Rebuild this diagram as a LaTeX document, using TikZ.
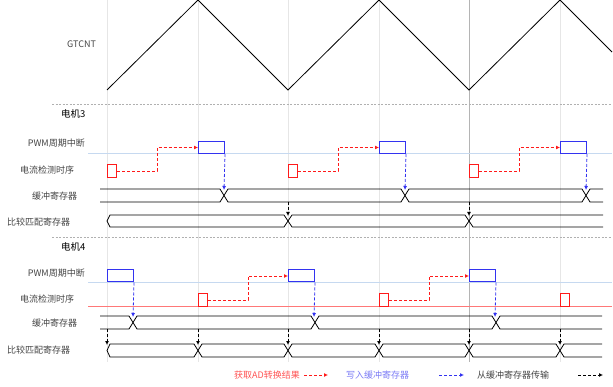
\documentclass[tikz,border=0pt]{standalone}
\usepackage{fontspec}
\setmainfont{Noto Sans CJK SC}
\usetikzlibrary{arrows.meta}
\definecolor{gridgray}{HTML}{E6E6E6}
\definecolor{markgray}{HTML}{B4B4B4}
\definecolor{sepgray}{HTML}{B0B0B0}
\definecolor{labelgray}{HTML}{444444}
\definecolor{adred}{HTML}{FF1A1A}
\definecolor{pwmblue}{HTML}{3333F0}
\definecolor{pwmline}{HTML}{C6D9F0}
\definecolor{adline}{HTML}{FF7878}
\tikzset{
    lbl/.style={font=\fontsize{9}{10}\selectfont, text=labelgray, inner sep=0pt},
    motor/.style={font=\fontsize{9.5}{11}\selectfont, inner sep=0pt},
    adbox/.style={draw=adred, line width=1pt, fill=white, minimum width=9pt, minimum height=13pt, inner sep=0pt, anchor=north west},
    pwmbox/.style={draw=pwmblue, line width=1pt, fill=white, minimum width=26pt, minimum height=12pt, inner sep=0pt, anchor=north west},
    bus/.style={line width=0.8pt},
    adarrow/.style={adred, line width=0.8pt, dash pattern=on 3pt off 2pt, -{Latex[length=4pt,width=4pt]}},
    bufarrow/.style={pwmblue, line width=0.8pt, dash pattern=on 3pt off 2pt, -{Latex[length=4pt,width=4pt]}},
    cmparrow/.style={black, line width=0.8pt, dash pattern=on 3pt off 2pt, -{Latex[length=4pt,width=4pt]}}
}
\begin{document}
\begin{tikzpicture}[x=1pt, y=-1pt]
    \useasboundingbox (0,0) rectangle (613,387);
    % grid
    \foreach \gx in {107,198,288,379,560}
        \draw[gridgray, line width=0.7pt] (\gx,0) -- (\gx,362);
    \draw[markgray, line width=0.8pt] (469,0) -- (469,362);
    % counter
    \node[lbl, anchor=west] (cnt) at (67,44) {GTCNT};
    \draw[line width=0.8pt] (107,90) -- (198,0) -- (288,90) -- (379,0) -- (469,90) -- (560,0) -- (612,52);
    \draw[sepgray, dash pattern=on 2pt off 1.5pt] (52,104) -- (612,104);
    \draw[sepgray, dash pattern=on 2pt off 1.5pt] (52,237) -- (612,237);

    % motor 3
    \node[motor, anchor=west] (m3) at (61,114) {电机3};
    \node[lbl, anchor=east] (pwm3) at (85,143) {PWM周期中断};
    \node[lbl, anchor=west] (ad3) at (20,170) {电流检测时序};
    \node[lbl, anchor=west] (buf3) at (32,196) {缓冲寄存器};
    \node[lbl, anchor=west] (cmp3) at (7,222) {比较匹配寄存器};
    \draw[pwmline, line width=0.8pt] (88,153) -- (612,153);
    \draw[bus] (100,189) -- (220,189) -- (228,202) -- (401,202) -- (409,189) -- (582,189) -- (590,202) -- (603,202);
    \draw[bus] (100,202) -- (220,202) -- (228,189) -- (401,189) -- (409,202) -- (582,202) -- (590,189) -- (603,189);
    \draw[bus] (603,215) -- (473,215) -- (465,227) -- (292,227) -- (284,215) -- (110,215) -- (107,221) -- (110,227)
        -- (284,227) -- (292,215) -- (465,215) -- (473,227) -- (603,227);
    \node[adbox] (r31) at (107,164) {};
    \node[adbox] (r32) at (288,164) {};
    \node[adbox] (r33) at (469,164) {};
    \node[pwmbox] (b31) at (198,141) {};
    \node[pwmbox] (b32) at (379,141) {};
    \node[pwmbox] (b33) at (560,141) {};
    \coordinate (x31) at (224,190);
    \coordinate (x32) at (405,190);
    \coordinate (x33) at (586,190);
    \coordinate (s31) at (288,202);
    \coordinate (s32) at (469,202);
    \coordinate (c31) at (288,216);
    \coordinate (c32) at (469,216);
    \draw[adarrow] (r31.east) -- ++(40,0) |- (b31.west);
    \draw[adarrow] (r32.east) -- ++(40,0) |- (b32.west);
    \draw[adarrow] (r33.east) -- ++(40,0) |- (b33.west);
    \draw[bufarrow] (b31.south east) -- (x31);
    \draw[bufarrow] (b32.south east) -- (x32);
    \draw[bufarrow] (b33.south east) -- (x33);
    \draw[cmparrow] (s31) -- (c31);
    \draw[cmparrow] (s32) -- (c32);

    % motor 4
    \node[motor, anchor=west] (m4) at (61,247) {电机4};
    \node[lbl, anchor=east] (pwm4) at (85,273) {PWM周期中断};
    \node[lbl, anchor=west] (ad4) at (20,299) {电流检测时序};
    \node[lbl, anchor=west] (buf4) at (32,323) {缓冲寄存器};
    \node[lbl, anchor=west] (cmp4) at (7,350) {比较匹配寄存器};
    \draw[pwmline, line width=0.8pt] (88,282) -- (612,282);
    \draw[adline, line width=0.8pt] (88,306) -- (612,306);
    \draw[bus] (100,316) -- (129,316) -- (137,329) -- (311,329) -- (319,316) -- (492,316) -- (500,329) -- (602,329);
    \draw[bus] (100,329) -- (129,329) -- (137,316) -- (311,316) -- (319,329) -- (492,329) -- (500,316) -- (602,316);
    \draw[bus] (602,344) -- (564,344) -- (556,357) -- (473,357) -- (465,344) -- (383,344) -- (375,357) -- (292,357)
        -- (284,344) -- (202,344) -- (194,357) -- (110,357) -- (107,350.5) -- (110,344) -- (194,344) -- (202,357)
        -- (284,357) -- (292,344) -- (375,344) -- (383,357) -- (465,357) -- (473,344) -- (556,344) -- (564,357) -- (602,357);
    \node[pwmbox] (b41) at (107,269.5) {};
    \node[pwmbox] (b42) at (288,269.5) {};
    \node[pwmbox] (b43) at (469,269.5) {};
    \node[adbox] (r41) at (198,293) {};
    \node[adbox] (r42) at (379,293) {};
    \node[adbox] (r43) at (560,293) {};
    \coordinate (x41) at (133,317);
    \coordinate (x42) at (314,317);
    \coordinate (x43) at (495,317);
    \draw[adarrow] (r41.east) -- ++(40,0) |- (b42.west);
    \draw[adarrow] (r42.east) -- ++(40,0) |- (b43.west);
    \draw[bufarrow] (b41.south east) -- (x41);
    \draw[bufarrow] (b42.south east) -- (x42);
    \draw[bufarrow] (b43.south east) -- (x43);
    \foreach \gx in {107,198,288,379,469,560} {
        \coordinate (s4\gx) at (\gx,329);
        \coordinate (c4\gx) at (\gx,345);
        \draw[cmparrow] (s4\gx) -- (c4\gx);
    }

    % legend
    \node[lbl, anchor=east, text=adred!75] (lgad) at (300,375) {获取AD转换结果};
    \node[lbl, anchor=west, text=pwmblue!65] (lgbuf) at (346,375) {写入缓冲寄存器};
    \node[lbl, anchor=west, text=labelgray] (lgcmp) at (477,375) {从缓冲寄存器传输};
    \coordinate (la1) at (304,375);
    \coordinate (la2) at (328,375);
    \coordinate (lb1) at (439,375);
    \coordinate (lb2) at (464,375);
    \coordinate (lc1) at (578,375);
    \coordinate (lc2) at (603,375);
    \draw[adarrow] (la1) -- (la2);
    \draw[bufarrow] (lb1) -- (lb2);
    \draw[cmparrow] (lc1) -- (lc2);
\end{tikzpicture}
\end{document}
